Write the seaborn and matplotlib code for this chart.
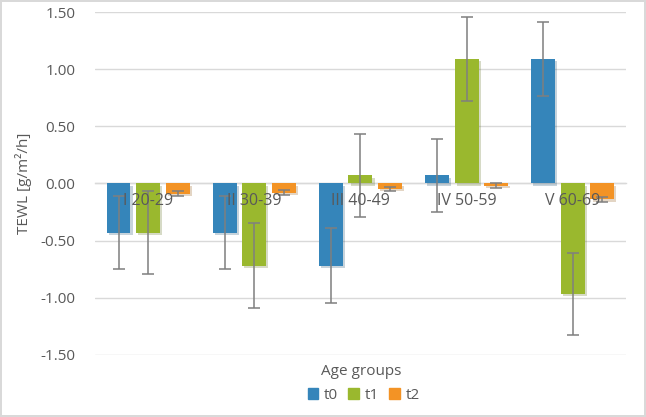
import numpy as np
import pandas as pd
import matplotlib
matplotlib.use("Agg")
import matplotlib.pyplot as plt
import matplotlib.patheffects as pe
import seaborn as sns

# values
groups = ["I 20-29", "II 30-39", "III 40-49", "IV 50-59", "V 60-69"]
times = ["t0", "t1", "t2"]
t0_mean = [-0.43, -0.43, -0.72, 0.07, 1.09]
t1_mean = [-0.43, -0.72, 0.07, 1.09, -0.97]
t2_mean = [-0.09, -0.08, -0.05, -0.02, -0.14]
t0_err = [0.32, 0.32, 0.33, 0.32, 0.32]
t1_err = [0.36, 0.37, 0.36, 0.37, 0.36]
t2_err = [0.02, 0.02, 0.02, 0.02, 0.02]

colors = {"t0": "#3585BA", "t1": "#9AB82E", "t2": "#F39325"}
grey = "#595959"

df = pd.DataFrame({
    "group": groups * 3,
    "time": ["t0"] * 5 + ["t1"] * 5 + ["t2"] * 5,
    "value": t0_mean + t1_mean + t2_mean,
    "err": t0_err + t1_err + t2_err,
})

sns.set_theme(style="white")
plt.rcParams["font.family"] = ["Open Sans", "DejaVu Sans"]

fig = plt.figure(figsize=(6.46, 4.17), dpi=100)
fig.patch.set_edgecolor("#d9d9d9")
fig.patch.set_linewidth(1.5)
ax = fig.add_axes([0.147, 0.149, 0.822, 0.822])

sns.barplot(data=df, x="group", y="value", hue="time", hue_order=times,
            palette=colors, order=groups, width=0.835, gap=0.19,
            errorbar=None, legend=False, ax=ax, saturation=1,
            linewidth=0, edgecolor="none", zorder=3)

shadow = [pe.SimplePatchShadow(offset=(1.5, -1.5), alpha=0.25, rho=0.6),
          pe.Normal()]
for p in ax.patches:
    p.set_path_effects(shadow)

# error bars at bar centres
errs = df["err"].tolist()
vals = df["value"].tolist()
for p, v, e in zip(ax.patches, vals, errs):
    xc = p.get_x() + p.get_width() / 2
    ax.errorbar(xc, v, yerr=e, color="#7f7f7f", lw=1.1, capsize=4.5,
                capthick=1.1, zorder=5)

ax.set_ylim(-1.5, 1.5)
ax.set_xlim(-0.5, 4.5)
ax.set_yticks(np.arange(-1.5, 1.51, 0.5))
ax.set_yticklabels([f"{t:.2f}" for t in np.arange(-1.5, 1.51, 0.5)])
ax.yaxis.grid(True, color="#d9d9d9", lw=1, zorder=0)
ax.set_axisbelow(True)

for s in ["top", "right", "left"]:
    ax.spines[s].set_visible(False)
ax.spines["bottom"].set_position(("data", 0))
ax.spines["bottom"].set_color("#d9d9d9")
ax.spines["bottom"].set_linewidth(1)

# category labels sit just under the zero line, drawn over the bars
ax.tick_params(axis="x", length=0, labelbottom=False)
for xt, g in zip(ax.get_xticks(), groups):
    ax.annotate(g, (xt, 0), xytext=(0, -12.5), textcoords="offset points",
                ha="center", va="center", fontsize=11.5, color=grey, zorder=6)

ax.tick_params(axis="y", length=0, pad=14, labelsize=11, labelcolor=grey)

ax.set_xlabel("")
ax.set_ylabel("TEWL [g/m²/h]", fontsize=11, color=grey, labelpad=6)
fig.text(0.559, 0.108, "Age groups", ha="center", va="center",
         fontsize=11, color=grey)

handles = [plt.Rectangle((0, 0), 1, 1, color=colors[t]) for t in times]
fig.legend(handles, times, loc="center", bbox_to_anchor=(0.563, 0.052),
           ncol=3, frameon=False, fontsize=11, labelcolor=grey,
           handlelength=0.7, handleheight=0.7, handletextpad=0.35,
           columnspacing=0.7)

fig.savefig("out.png", dpi=100)
